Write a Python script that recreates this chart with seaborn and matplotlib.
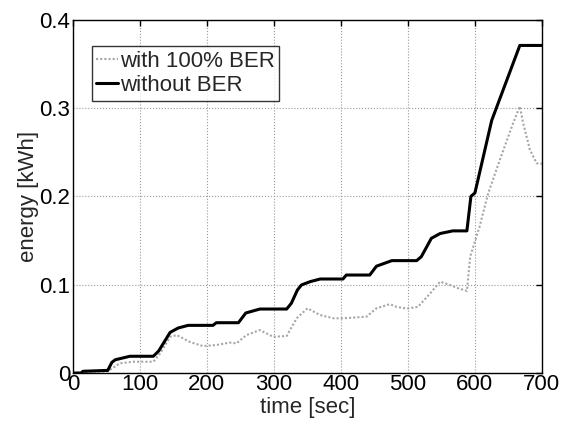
import matplotlib
matplotlib.use("Agg")
import matplotlib.pyplot as plt
import seaborn as sns
import pandas as pd

# Cumulative energy without bit-error-rate adaptation
t_without = [0, 12, 15, 52, 58, 63, 85, 120, 128, 145, 157, 172, 209, 214, 247, 258,
             279, 319, 326, 335, 341, 354, 369, 403, 408, 443, 453, 476, 513, 520,
             535, 548, 567, 588, 594, 600, 625, 667, 700]
e_without = [0, 0, 0.002, 0.003, 0.012, 0.015, 0.019, 0.019, 0.025, 0.046, 0.051, 0.054,
             0.054, 0.057, 0.057, 0.068, 0.0725, 0.0725, 0.079, 0.094, 0.0997, 0.1035,
             0.1065, 0.1065, 0.111, 0.111, 0.121, 0.1273, 0.1273, 0.1318, 0.1526, 0.158,
             0.161, 0.161, 0.2, 0.204, 0.286, 0.371, 0.371]

# Cumulative energy with 100% BER
t_with = [0, 15, 52, 60, 70, 90, 120, 130, 145, 155, 175, 194, 214, 234, 244, 259, 279,
          299, 319, 334, 350, 369, 389, 403, 438, 453, 473, 483, 498, 515, 533, 548,
          563, 575, 588, 593, 607, 620, 637, 657, 667, 672, 682, 692, 700]
e_with = [0, 0.001, 0.002, 0.006, 0.011, 0.0128, 0.0128, 0.022, 0.041, 0.043, 0.035,
          0.0306, 0.0317, 0.0345, 0.0336, 0.043, 0.0487, 0.041, 0.042, 0.062, 0.0733,
          0.0657, 0.062, 0.062, 0.0638, 0.0733, 0.078, 0.075, 0.073, 0.075, 0.090,
          0.1035, 0.0997, 0.096, 0.093, 0.132, 0.166, 0.204, 0.241, 0.283, 0.302, 0.283,
          0.253, 0.2376, 0.237]

x_ticks = [0, 100, 200, 300, 400, 500, 600, 700]
y_ticks = [0, 0.1, 0.2, 0.3, 0.4]
y_tick_labels = ["0", "0.1", "0.2", "0.3", "0.4"]

sns.set_style("white")
plt.rcParams["font.family"] = ["Liberation Sans", "DejaVu Sans"]

FS = 16

fig = plt.figure(figsize=(5.61, 4.22), dpi=100)
ax = fig.add_axes([0.130, 0.116, 0.836, 0.837])

df_with = pd.DataFrame({"time": t_with, "energy": e_with})
df_without = pd.DataFrame({"time": t_without, "energy": e_without})

sns.lineplot(data=df_with, x="time", y="energy", ax=ax, color="0.65",
             linestyle=(0, (1, 1)), linewidth=1.5, label="with 100% BER")
sns.lineplot(data=df_without, x="time", y="energy", ax=ax, color="black",
             linewidth=2.2, label="without BER")

ax.set_xlim(0, 700)
ax.set_ylim(0, 0.4)
ax.set_xticks(x_ticks)
ax.set_xticklabels([str(v) for v in x_ticks])
ax.set_yticks(y_ticks)
ax.set_yticklabels(y_tick_labels)

ax.grid(True, linestyle=":", color="0.6", linewidth=0.8)
ax.tick_params(direction="in", top=True, right=True, length=4, width=1,
               labelsize=FS, colors="black")
ax.tick_params(axis="x", pad=1)
ax.tick_params(axis="y", pad=2)
for s in ax.spines.values():
    s.set_color("black")
    s.set_linewidth(1.0)

ax.set_xlabel("time [sec]", fontsize=FS, labelpad=1)
ax.set_ylabel("energy [kWh]", fontsize=FS, labelpad=0)

leg = ax.legend(loc="upper left", bbox_to_anchor=(0.04, 0.925), borderaxespad=0,
                fontsize=FS, frameon=True, fancybox=False, handlelength=1.0,
                handletextpad=0.08, borderpad=0.2, labelspacing=0.15)
leg.get_frame().set_edgecolor("black")
leg.get_frame().set_linewidth(1.0)

fig.savefig("out.png", dpi=100)
